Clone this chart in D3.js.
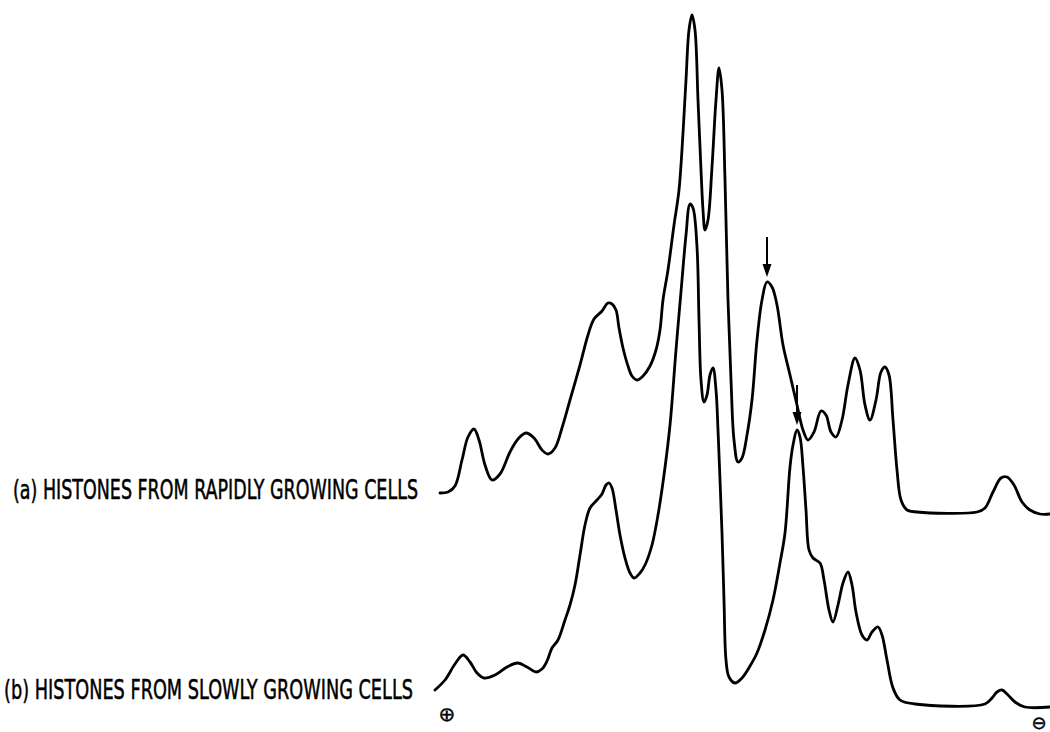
<!DOCTYPE html>
<html>
<head>
<meta charset="utf-8">
<script src="https://cdn.jsdelivr.net/npm/d3@7"></script>
<style>
  html, body { margin: 0; padding: 0; background: #fff; }
  svg { display: block; }
</style>
</head>
<body>
<div id="chart"></div>
<script>
// densitometer traces (distance along gel, absorbance a.u.)
const distA = [10, 18, 25, 32, 38, 44, 49, 55, 62, 70, 80, 88, 96, 104, 112, 118, 125, 132, 140, 150, 158, 164, 172, 178, 182, 186, 189, 193, 198, 202, 207, 213, 220, 226, 230, 233, 238, 244, 249, 253, 256, 259, 262, 265, 268, 271, 273, 275, 278, 282, 286, 289, 292, 295, 298, 301, 304, 308, 312, 317, 322, 327, 332, 337, 342, 347, 353, 360, 367, 373, 378, 384, 391, 396, 401, 406, 412, 418, 425, 430, 435, 440, 446, 451, 455, 459, 463, 467, 471, 477, 487, 547, 555, 563, 571, 577, 584, 592, 600, 610, 620];
const absA = [21, 22, 28, 54, 77, 85, 74, 49, 34, 40, 62, 75, 81, 76, 64, 60, 66, 86, 114, 149, 179, 195, 203, 211, 210, 204, 186, 166, 148, 138, 134, 138, 148, 164, 184, 214, 244, 289, 324, 381, 434, 484, 499, 484, 414, 344, 304, 284, 294, 347, 414, 446, 424, 334, 214, 134, 74, 52, 56, 79, 114, 174, 214, 232, 227, 209, 169, 139, 109, 84, 74, 82, 103, 99, 82, 77, 94, 129, 156, 144, 109, 94, 114, 142, 147, 139, 94, 44, 14, 4, 2, 2, 6, 22, 36, 37, 29, 12, 4, 0, 0];

const distB = [5, 15, 25, 33, 40, 47, 54, 65, 77, 88, 97, 106, 112, 117, 122, 128, 135, 140, 145, 150, 155, 160, 167, 172, 176, 179, 182, 186, 190, 195, 200, 204, 210, 215, 222, 228, 234, 240, 246, 252, 256, 260, 263, 267, 269, 271, 274, 277, 280, 283, 286, 288, 290, 292, 294, 296, 299, 305, 312, 320, 327, 335, 343, 350, 355, 360, 363, 367, 370, 373, 376, 379, 383, 390, 394, 399, 403, 408, 413, 418, 422, 426, 432, 437, 442, 448, 452, 457, 463, 470, 485, 555, 562, 567, 572, 578, 585, 595, 620];
const absB = [15, 25, 41, 50, 43, 32, 27, 30, 38, 42, 38, 33, 36, 44, 57, 65, 85, 100, 120, 150, 180, 197, 205, 211, 220, 222, 217, 195, 170, 147, 132, 127, 132, 140, 160, 190, 230, 280, 355, 425, 470, 501, 497, 458, 385, 325, 303, 310, 330, 337, 315, 275, 225, 172, 105, 45, 28, 22, 27, 39, 52, 75, 105, 142, 172, 238, 260, 275, 268, 238, 195, 155, 147, 142, 125, 95, 83, 100, 122, 133, 120, 93, 70, 65, 73, 78, 70, 45, 17, 5, 1, 1, 7, 13, 15, 10, 3, -2, -2];

const labels = ["(a) HISTONES FROM RAPIDLY GROWING CELLS", "(b) HISTONES FROM SLOWLY GROWING CELLS"];
const arrowAt = [337, 367];   // marked band, trace a and trace b

const width = 1050, height = 732;

const svg = d3.select("#chart")
    .append("svg")
    .attr("width", width)
    .attr("height", height);

const x = d3.scaleLinear().domain([0, 620]).range([430, 1050]);
// each trace has its own baseline, same vertical scale
const yA = d3.scaleLinear().domain([0, 500]).range([514, 14]);
const yB = d3.scaleLinear().domain([0, 500]).range([705, 205]);

const traces = [
    { dist: distA, abs: absA, y: yA },
    { dist: distB, abs: absB, y: yB }
];

traces.forEach((t, k) => {
    const pts = t.dist.map((d, i) => [d, t.abs[i]]);
    const line = d3.line()
        .x(d => x(d[0]))
        .y(d => t.y(d[1]))
        .curve(d3.curveCatmullRom.alpha(0.5));
    svg.append("path")
        .attr("d", line(pts))
        .attr("fill", "none")
        .attr("stroke", "#000")
        .attr("stroke-width", 2.8)
        .attr("stroke-linejoin", "round")
        .attr("stroke-linecap", "round");

    // arrow over the marked band
    const ax = arrowAt[k];
    const peak = t.abs[t.dist.indexOf(ax)];
    const tipY = t.y(peak) - 5;
    svg.append("line")
        .attr("x1", x(ax)).attr("x2", x(ax))
        .attr("y1", tipY - 40).attr("y2", tipY - 10)
        .attr("stroke", "#000").attr("stroke-width", 2);
    svg.append("path")
        .attr("d", `M${x(ax) - 4.5},${tipY - 13} L${x(ax) + 4.5},${tipY - 13} L${x(ax)},${tipY} Z`)
        .attr("fill", "#000");
});

// trace labels
const labelPos = [{ x: 13, y: 499, w: 405 }, { x: 4, y: 699, w: 409 }];
svg.selectAll("text.lbl")
    .data(labels)
    .enter()
    .append("text")
    .attr("class", "lbl")
    .attr("x", (d, i) => labelPos[i].x)
    .attr("y", (d, i) => labelPos[i].y)
    .attr("textLength", (d, i) => labelPos[i].w)
    .attr("lengthAdjust", "spacingAndGlyphs")
    .attr("font-family", "'Liberation Sans Narrow', 'DejaVu Sans Condensed', 'Liberation Sans', sans-serif")
    .attr("font-size", 27)
    .attr("fill", "#000")
    .attr("stroke", "#000")
    .attr("stroke-width", 0.5)
    .text(d => d);

// electrode signs
svg.append("text")
    .attr("x", 447).attr("y", 721)
    .attr("text-anchor", "middle")
    .attr("font-family", "'DejaVu Sans', sans-serif")
    .attr("font-size", 20)
    .attr("stroke", "#000")
    .attr("stroke-width", 0.4)
    .text("⊕");
svg.append("text")
    .attr("x", 1039).attr("y", 729)
    .attr("text-anchor", "middle")
    .attr("font-family", "'DejaVu Sans', sans-serif")
    .attr("font-size", 18)
    .attr("stroke", "#000")
    .attr("stroke-width", 0.4)
    .text("⊖");
</script>
</body>
</html>
